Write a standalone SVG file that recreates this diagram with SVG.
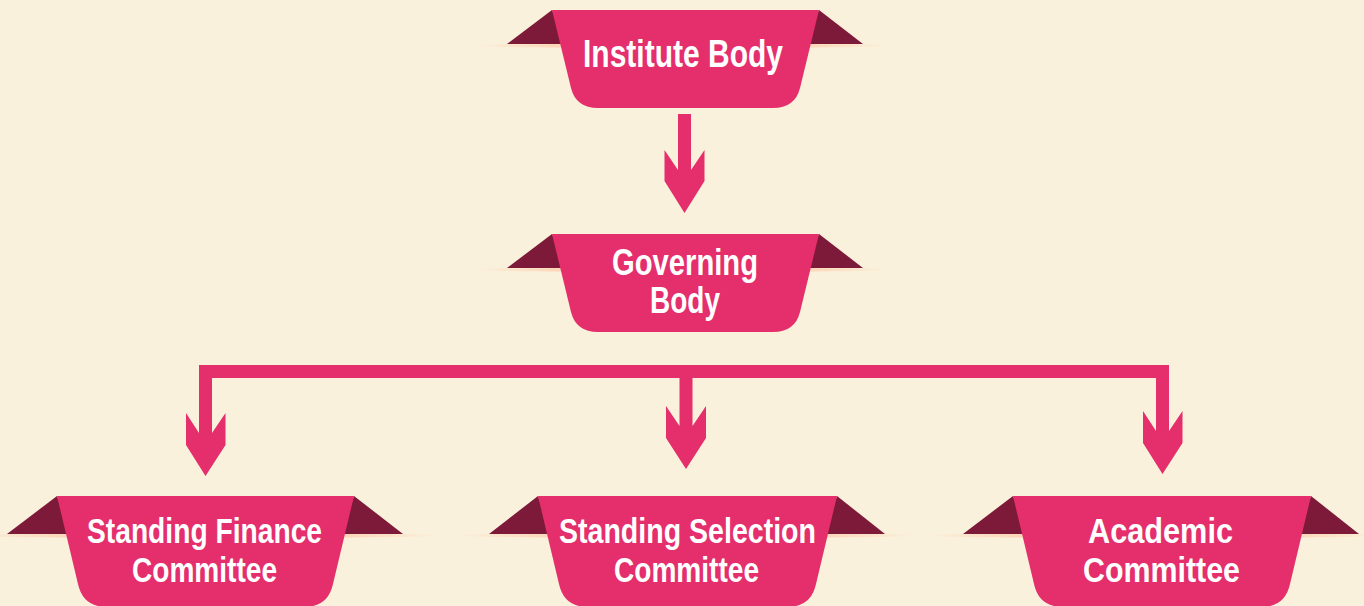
<svg xmlns="http://www.w3.org/2000/svg" width="1364" height="606" viewBox="0 0 1364 606">
<style>
.pink{fill:#e52e6c}
.dark{fill:#7d1a39}
.glow{fill:url(#peach)}
.lbl{font-family:"Liberation Sans",Arial,sans-serif;font-weight:bold;fill:#ffffff;text-anchor:middle}
.big{font-size:38px}
.mid{font-size:37px}
.small{font-size:35px}
</style>
<defs>
<linearGradient id="peach" x1="0" y1="0" x2="1" y2="0">
<stop offset="0" stop-color="#fcd6b8" stop-opacity="0"/>
<stop offset="0.2" stop-color="#fcd6b8" stop-opacity="1"/>
<stop offset="0.8" stop-color="#fcd6b8" stop-opacity="1"/>
<stop offset="1" stop-color="#fcd6b8" stop-opacity="0"/>
</linearGradient>
</defs>
<rect width="1364" height="606" fill="#faf1dc"/>
<g id="connectors" class="pink">
<polygon points="678,114 678,170 664.5,150 664.5,181 684.5,213 704.5,181 704.5,150 691,170 691,114"/>
<rect x="199" y="365" width="970" height="13"/>
<polygon points="199,365 199,433 186,413 186,445 205.5,476 225.5,445 225.5,413 212,433 212,365"/>
<polygon points="679.5,365 679.5,426 666,406 666,438 686,469 706,438 706,406 692.5,426 692.5,365"/>
<polygon points="1156,365 1156,431 1143,411 1143,443 1162.5,474 1182.5,443 1182.5,411 1169,431 1169,365"/>
</g>
<g id="institute-body">
<ellipse class="glow" cx="683" cy="45.5" rx="208" ry="2.5"/>
<polygon class="dark" points="552,10 507,44 566,44"/>
<polygon class="dark" points="819,10 863,44 805,44"/>
<path class="pink" d="M552,10 L571,88 Q576,108 598,108 L773,108 Q795,108 800,88 L819,10 Z"/>
<text class="lbl big" x="683" y="67" textLength="200" lengthAdjust="spacingAndGlyphs">Institute Body</text>
</g>
<g id="governing-body">
<ellipse class="glow" cx="683" cy="269.5" rx="208" ry="2.5"/>
<polygon class="dark" points="552,234 507,268 566,268"/>
<polygon class="dark" points="819,234 863,268 805,268"/>
<path class="pink" d="M552,234 L571,312 Q576,332 598,332 L773,332 Q795,332 800,312 L819,234 Z"/>
<text class="lbl mid" x="685" y="275" textLength="146" lengthAdjust="spacingAndGlyphs">Governing</text>
<text class="lbl mid" x="685" y="313" textLength="70" lengthAdjust="spacingAndGlyphs">Body</text>
</g>
<g id="standing-finance-committee">
<ellipse class="glow" cx="205" cy="535.5" rx="235" ry="2.5"/>
<polygon class="dark" points="57,496 7,534 70,534"/>
<polygon class="dark" points="354,496 403,534 341,534"/>
<path class="pink" d="M57,496 L78,584 Q83,607 107,607 L304,607 Q328,607 333,584 L354,496 Z"/>
<text class="lbl small" x="204.5" y="543" textLength="235" lengthAdjust="spacingAndGlyphs">Standing Finance</text>
<text class="lbl small" x="204.5" y="582" textLength="145" lengthAdjust="spacingAndGlyphs">Committee</text>
</g>
<g id="standing-selection-committee">
<ellipse class="glow" cx="687" cy="535.5" rx="230" ry="2.5"/>
<polygon class="dark" points="538,496 489,534 551,534"/>
<polygon class="dark" points="837,496 885,534 824,534"/>
<path class="pink" d="M538,496 L559,584 Q564,607 588,607 L787,607 Q811,607 816,584 L837,496 Z"/>
<text class="lbl small" x="687.5" y="543" textLength="257" lengthAdjust="spacingAndGlyphs">Standing Selection</text>
<text class="lbl small" x="686.5" y="582" textLength="145" lengthAdjust="spacingAndGlyphs">Committee</text>
</g>
<g id="academic-committee">
<ellipse class="glow" cx="1155" cy="535.5" rx="230" ry="2.5"/>
<polygon class="dark" points="1013,496 963,534 1026,534"/>
<polygon class="dark" points="1311,496 1359,534 1298,534"/>
<path class="pink" d="M1013,496 L1034,584 Q1039,607 1063,607 L1261,607 Q1285,607 1290,584 L1311,496 Z"/>
<text class="lbl small" x="1160.5" y="543" textLength="145" lengthAdjust="spacingAndGlyphs">Academic</text>
<text class="lbl small" x="1161.5" y="582" textLength="157" lengthAdjust="spacingAndGlyphs">Committee</text>
</g>
</svg>
